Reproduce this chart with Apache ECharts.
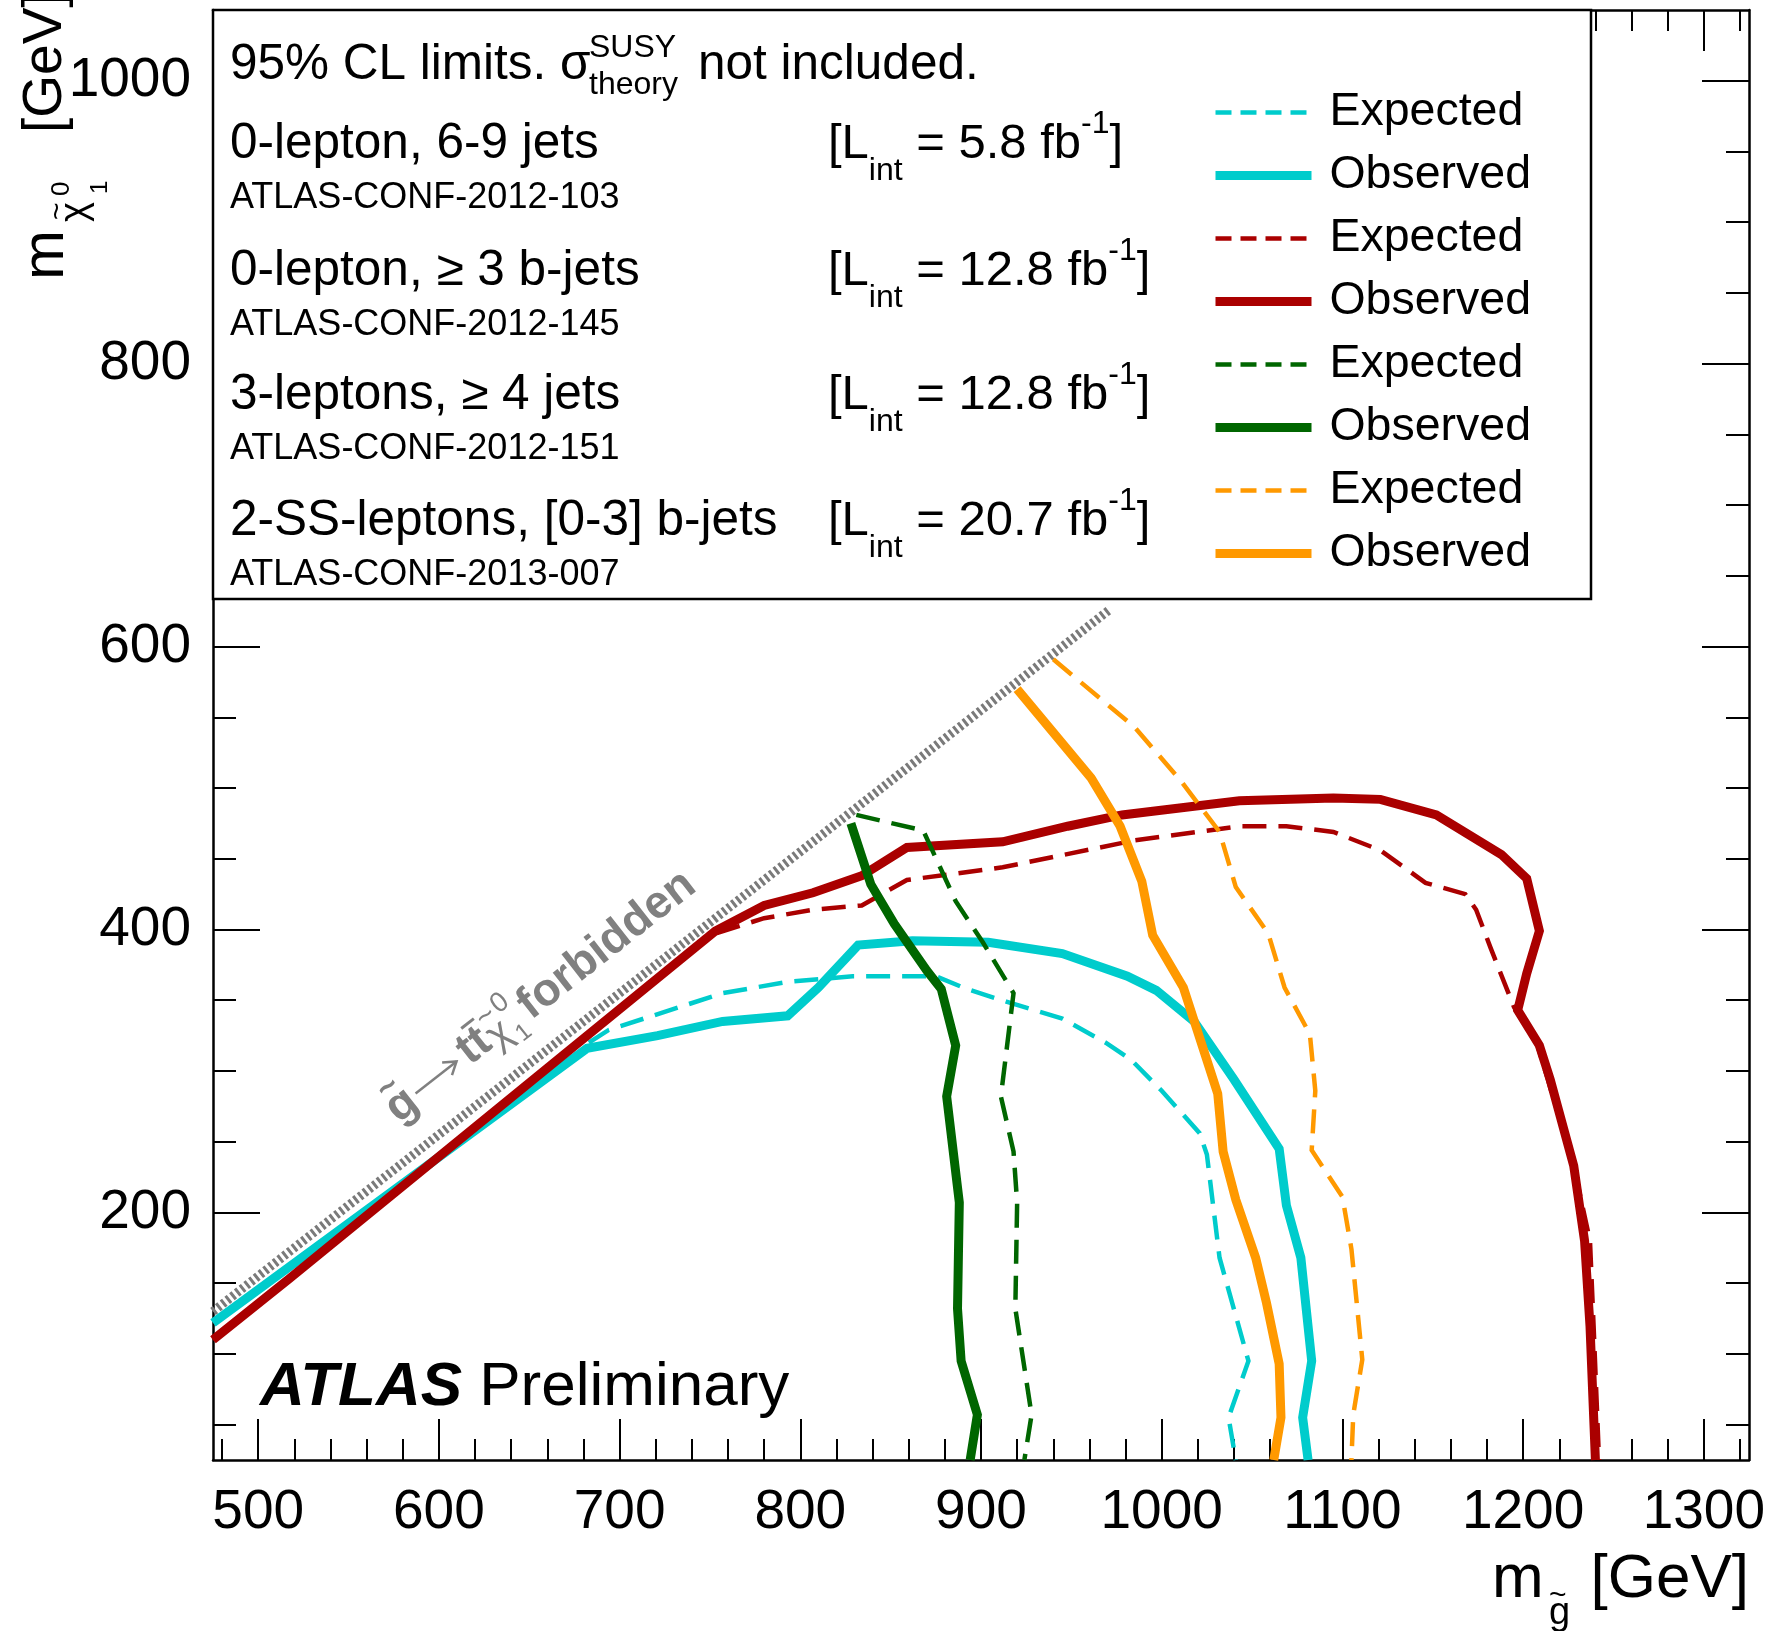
<!DOCTYPE html>
<html>
<head>
<meta charset="utf-8">
<script src="https://cdn.jsdelivr.net/npm/echarts@6/dist/echarts.min.js"></script>
<style>
  html, body { margin: 0; padding: 0; background: #fff; }
  #chart { width: 1772px; height: 1631px; }
</style>
</head>
<body>
<div id="chart"></div>
<script>
// contours as [m_gluino, m_neutralino] in GeV
const kinematicLimit = [[475, 130], [971, 626]];

const zeroLepJetsExp = [[683, 320], [694, 329], [757, 355], [793, 363], [829, 367], [875, 367], [892, 358], [914, 349], [945, 337], [969, 320], [983, 308], [1000, 286], [1021, 256], [1025, 241], [1032, 168], [1048, 95], [1037, 55], [1041, 25]];
const zeroLepJetsObs = [[475, 122], [682, 316], [721, 325], [757, 335], [793, 339], [810, 359], [832, 389], [862, 392], [904, 391], [945, 383], [981, 367], [997, 357], [1018, 335], [1040, 294], [1065, 245], [1069, 205], [1077, 168], [1083, 95], [1078, 55], [1081, 25]];

const zeroLepBjetsExp = [[475, 110], [517, 153], [750, 396], [780, 408], [807, 414], [834, 417], [859, 435], [912, 444], [985, 463], [1043, 473], [1069, 473], [1095, 469], [1121, 456], [1146, 433], [1168, 425], [1174, 414], [1182, 387], [1195, 345], [1208, 318], [1228, 233], [1237, 180], [1239, 120], [1242, 25]];
const zeroLepBjetsObs = [[475, 110], [517, 153], [753, 399], [780, 417], [807, 426], [834, 438], [859, 458], [912, 462], [948, 473], [978, 481], [1043, 491], [1095, 493], [1121, 492], [1152, 481], [1188, 453], [1202, 436], [1209, 399], [1202, 369], [1197, 343], [1209, 318], [1215, 294], [1228, 233], [1234, 180], [1237, 120], [1240, 25]];

const threeLepExp = [[831, 481], [868, 470], [886, 420], [901, 391], [918, 355], [911, 282], [918, 243], [920, 207], [919, 132], [928, 57], [924, 25]];
const threeLepObs = [[828, 475], [839, 432], [852, 404], [870, 371], [878, 358], [886, 318], [881, 282], [888, 207], [887, 132], [889, 95], [898, 57], [894, 25]];

const ssLepExp = [[940, 591], [985, 543], [1010, 506], [1032, 469], [1041, 430], [1059, 397], [1068, 359], [1082, 326], [1085, 286], [1083, 244], [1100, 211], [1105, 174], [1111, 96], [1106, 57], [1105, 25]];
const ssLepObs = [[920, 570], [961, 507], [977, 473], [989, 434], [995, 396], [1012, 359], [1031, 284], [1034, 243], [1041, 209], [1052, 168], [1058, 136], [1065, 93], [1066, 55], [1062, 25]];

const analyses = ['0-lepton, 6-9 jets', '0-lepton, \u2265 3 b-jets', '3-leptons, \u2265 4 jets', '2-SS-leptons, [0-3] b-jets'];
const confNotes = ['ATLAS-CONF-2012-103', 'ATLAS-CONF-2012-145', 'ATLAS-CONF-2012-151', 'ATLAS-CONF-2013-007'];
const lumis = ['5.8', '12.8', '12.8', '20.7'];
const colors = ['#00cccc', '#aa0000', '#006600', '#ff9900'];

const xMajorTicks = [500, 600, 700, 800, 900, 1000, 1100, 1200, 1300];
const xMinorTicks = [480, 500, 520, 540, 560, 580, 600, 620, 640, 660, 680, 700, 720, 740, 760, 780, 800, 820, 840, 860, 880, 900, 920, 940, 960, 980, 1000, 1020, 1040, 1060, 1080, 1100, 1120, 1140, 1160, 1180, 1200, 1220, 1240, 1260, 1280, 1300, 1320];
const yMajorTicks = [200, 400, 600, 800, 1000];
const yMinorTicks = [50, 100, 150, 200, 250, 300, 350, 400, 450, 500, 550, 600, 650, 700, 750, 800, 850, 900, 950, 1000];

const font = 'Liberation Sans, Arial, Helvetica, sans-serif';
const chart = echarts.init(document.getElementById('chart'));

const contourSets = [
  [zeroLepJetsExp, zeroLepJetsObs],
  [zeroLepBjetsExp, zeroLepBjetsObs],
  [threeLepExp, threeLepObs],
  [ssLepExp, ssLepObs]
];

const series = [{
  name: 'kinematic',
  type: 'line',
  data: kinematicLimit,
  symbol: 'none',
  silent: true,
  lineStyle: { color: '#7a7a7a', width: 9, type: [3, 3], cap: 'butt' },
  z: 2
}];
const legendData = [];

contourSets.forEach((pair, i) => {
  ['Expected', 'Observed'].forEach((kind, j) => {
    const dashed = j === 0;
    const name = kind + ' ' + analyses[i];
    series.push({
      name,
      type: 'line',
      data: pair[j],
      symbol: 'none',
      silent: true,
      itemStyle: { color: colors[i] },
      lineStyle: { color: colors[i], width: dashed ? 4.5 : 9, type: dashed ? [24, 12] : 'solid', join: 'miter', cap: 'butt' },
      z: 3
    });
    legendData.push({ name, lineStyle: { width: dashed ? 4.5 : 9, type: dashed ? [16, 9] : 'solid' } });
  });
});

const plain = v => String(v);

function xAxisDef(position, ticks, len, withLine, withLabels) {
  return {
    type: 'value', min: 475, max: 1325, position,
    axisLine: { show: withLine, lineStyle: { color: '#000', width: 2.5 } },
    axisTick: { inside: true, length: len, customValues: ticks, lineStyle: { color: '#000', width: 2 } },
    axisLabel: withLabels
      ? { customValues: ticks, formatter: plain, fontSize: 55, color: '#000', margin: 25, fontFamily: font }
      : { show: false },
    splitLine: { show: false }
  };
}

function yAxisDef(position, ticks, len, withLine, withLabels) {
  return {
    type: 'value', min: 25, max: 1050, position,
    axisLine: { show: withLine, lineStyle: { color: '#000', width: 2.5 } },
    axisTick: { inside: true, length: len, customValues: ticks, lineStyle: { color: '#000', width: 2 } },
    axisLabel: withLabels
      ? { customValues: ticks, formatter: plain, fontSize: 55, color: '#000', margin: 22, fontFamily: font }
      : { show: false },
    splitLine: { show: false }
  };
}

function txt(x, y, text, size, extra) {
  return {
    type: 'text', x, y, z: 5, silent: true,
    style: Object.assign({ text, fontSize: size, fontFamily: font, fill: '#000', align: 'left', verticalAlign: 'middle' }, extra || {})
  };
}

function lumiText(x, cy, value) {
  return {
    type: 'text', x, y: cy - 40, z: 5, silent: true,
    style: {
      text: '{m|[L}{s|int}{m| = ' + value + ' fb}{p|-1}{m|]}',
      align: 'left', verticalAlign: 'top', fill: '#000', fontFamily: font,
      rich: {
        m: { fontSize: 49, lineHeight: 48, padding: [16, 0, 0, 0], verticalAlign: 'top', fontFamily: font },
        s: { fontSize: 32, lineHeight: 32, padding: [51, 0, 0, 0], verticalAlign: 'top', fontFamily: font },
        p: { fontSize: 32, lineHeight: 32, padding: [4, 0, 0, 0], verticalAlign: 'top', fontFamily: font }
      }
    }
  };
}

const rowY = [144, 271, 395, 521];
const gray = '#808080';

const graphics = [
  { type: 'rect', z: 3, silent: true, shape: { x: 213, y: 10, width: 1378, height: 589 },
    style: { fill: '#fff', stroke: '#000', lineWidth: 2.5 } },
  txt(230, 65, '95% CL limits. \u03c3', 49.5),
  txt(589, 48, 'SUSY', 32),
  txt(589, 85, 'theory', 32),
  txt(698, 65, 'not included.', 49.5)
];
analyses.forEach((label, i) => {
  graphics.push(txt(230, rowY[i], label, 49.5));
  graphics.push(txt(230, rowY[i] + 54, confNotes[i], 36));
  graphics.push(lumiText(828, rowY[i], lumis[i]));
});

// ATLAS label
graphics.push({
  type: 'text', x: 260, y: 1388, z: 5, silent: true,
  style: {
    text: '{a|ATLAS}{p| Preliminary}', verticalAlign: 'middle', fill: '#000',
    rich: {
      a: { fontSize: 62, fontWeight: 'bold', fontStyle: 'italic', fontFamily: font },
      p: { fontSize: 62, fontFamily: font }
    }
  }
});

// kinematic limit label along the diagonal
const g = (x, y, text, size, weight) => ({
  type: 'text', x, y, silent: true,
  style: { text, fontSize: size, fontWeight: weight || 'bold', fontFamily: font, fill: gray, align: 'left', verticalAlign: 'middle' }
});
graphics.push({
  type: 'group', x: 391, y: 1114, rotation: 38.06 * Math.PI / 180, z: 5, silent: true,
  children: [
    g(0, 0, 'g', 46),
    g(4, -22, '~', 34),
    { type: 'polyline', silent: true, shape: { points: [[32, -1], [84, -1]] }, style: { stroke: gray, lineWidth: 2.5, fill: null } },
    { type: 'polyline', silent: true, shape: { points: [[72, -9], [84, -1], [72, 7]] }, style: { stroke: gray, lineWidth: 2.5, fill: null } },
    g(92, -2, 'tt', 46),
    { type: 'line', silent: true, shape: { x1: 108, y1: -24, x2: 124, y2: -24 }, style: { stroke: gray, lineWidth: 3 } },
    g(124, 4, '\u03c7', 40, 'normal'),
    g(126, -18, '~', 30, 'normal'),
    g(146, -20, '0', 28, 'normal'),
    g(148, 18, '1', 24, 'normal'),
    g(168, 0, 'forbidden', 46)
  ]
});

// axis titles
graphics.push(txt(1749, 1580, '[GeV]', 62, { align: 'right' }));
graphics.push(txt(1492, 1580, 'm', 62));
graphics.push(txt(1549, 1614, 'g', 38));
graphics.push(txt(1549, 1596, '~', 30));

const yt = (x, y, text, size) => ({
  type: 'text', x, y, silent: true,
  style: { text, fontSize: size, fontFamily: font, fill: '#000', align: 'left', verticalAlign: 'middle' }
});
graphics.push({
  type: 'group', x: 46, y: 280, rotation: Math.PI / 2, z: 5, silent: true,
  children: [
    yt(0, 0, 'm', 60),
    yt(58, 30, '\u03c7', 38),
    yt(60, 12, '~', 30),
    yt(84, 16, '0', 26),
    yt(86, 54, '1', 24),
    yt(147, 0, '[GeV]', 55)
  ]
});

chart.setOption({
  animation: false,
  textStyle: { fontFamily: font },
  grid: { left: 213, right: 23, top: 10, bottom: 171, outerBoundsMode: 'none' },
  xAxis: [
    xAxisDef('bottom', xMajorTicks, 41, true, true),
    xAxisDef('bottom', xMinorTicks, 21, false, false),
    xAxisDef('top', xMajorTicks, 41, true, false),
    xAxisDef('top', xMinorTicks, 21, false, false)
  ],
  yAxis: [
    yAxisDef('left', yMajorTicks, 47, true, true),
    yAxisDef('left', yMinorTicks, 23, false, false),
    yAxisDef('right', yMajorTicks, 47, true, false),
    yAxisDef('right', yMinorTicks, 23, false, false)
  ],
  legend: {
    data: legendData,
    orient: 'vertical',
    left: 1211, top: 89, padding: 0,
    itemWidth: 96, itemHeight: 20, itemGap: 16,
    itemStyle: { opacity: 0 },
    selectedMode: false,
    formatter: name => ' ' + name.split(' ')[0],
    textStyle: { fontSize: 46.5, lineHeight: 46, color: '#000', fontFamily: font },
    z: 6
  },
  graphic: graphics,
  series
});
</script>
</body>
</html>
